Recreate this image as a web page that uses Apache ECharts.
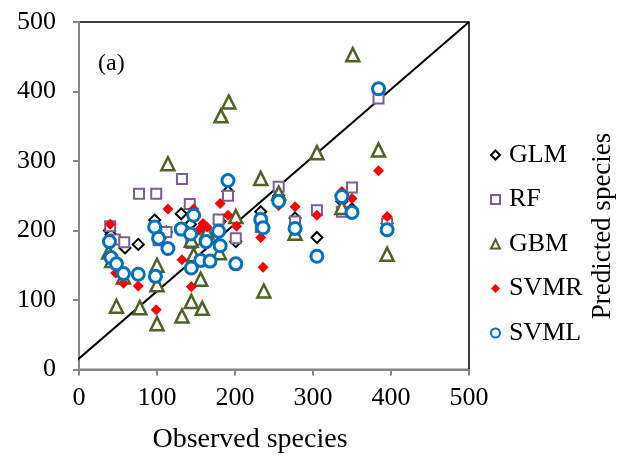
<!DOCTYPE html>
<html>
<head>
<meta charset="utf-8">
<script src="https://cdn.jsdelivr.net/npm/echarts@6/dist/echarts.min.js"></script>
<style>
html,body{margin:0;padding:0;background:#fff;}
#c{width:619px;height:457px;}
</style>
</head>
<body>
<div id="c"></div>
<script>
// ---- data (observed, predicted) ----
var seriesNames = ['GLM', 'RF', 'GBM', 'SVMR', 'SVML'];
var xTicks = [0, 100, 200, 300, 400, 500];
var yTicks = [0, 100, 200, 300, 400, 500];

var glm = [[39,200],[41,194],[59,175],[76,180],[97,215],[112,198],[131,224],[143,209],[147,190],[159,195],[163,188],[181,213],[191,256],[201,184],[233,227],[256,250],[277,218],[305,190],[337,242],[350,231],[384,400],[395,210]];
var rf = [[40,206],[46,187],[58,183],[77,253],[99,253],[102,186],[112,198],[132,274],[142,238],[144,182],[153,187],[165,195],[179,216],[191,250],[201,189],[233,205],[256,263],[277,213],[305,229],[337,227],[350,262],[384,390],[395,210]];
var gbm = [[38,169],[42,157],[48,91],[57,133],[78,89],[100,66],[100,122],[100,150],[114,296],[132,77],[144,186],[144,98],[147,165],[156,130],[158,88],[164,198],[180,168],[182,365],[192,385],[201,220],[233,275],[237,113],[256,254],[277,196],[305,312],[337,233],[351,453],[384,316],[395,166]];
var svmr = [[40,209],[47,139],[57,124],[76,120],[99,86],[114,231],[132,158],[144,119],[147,231],[155,202],[159,210],[164,205],[181,239],[191,222],[202,206],[233,190],[236,147],[256,236],[277,234],[305,222],[337,256],[350,246],[384,286],[395,220]];
var svml = [[39,184],[41,161],[48,152],[57,138],[76,137],[97,205],[98,134],[102,189],[114,174],[131,202],[143,195],[144,146],[147,222],[156,157],[163,184],[168,156],[179,199],[181,178],[191,272],[201,152],[233,216],[236,204],[256,242],[277,203],[305,163],[337,249],[350,226],[384,404],[395,201]];

// reference line endpoints (data units)
var refLine = [[-5,11],[500,500]];

var serif = '"Liberation Serif","Times New Roman",serif';
var chart = echarts.init(document.getElementById('c'), null, {renderer:'canvas'});

function sc(name, data, symbol, size, color, fill, bw){
  return {
    name: name, type: 'scatter', data: data, symbol: symbol, symbolSize: size,
    itemStyle: {color: fill, borderColor: color, borderWidth: bw, opacity: 1},
    emphasis: {disabled: true}, z: 3
  };
}

var option = {
  animation: false,
  backgroundColor: '#fff',
  grid: {left: 79, top: 22, width: 390, height: 347.5, show: true, borderColor: '#000', borderWidth: 1.5, backgroundColor: 'transparent'},
  xAxis: {
    type: 'value', min: xTicks[0], max: xTicks[xTicks.length-1], interval: 100,
    axisLine: {show: true, onZero: false, lineStyle: {color: '#868686', width: 2}},
    axisTick: {show: true, inside: false, length: 6, lineStyle: {color: '#868686', width: 2}},
    splitLine: {show: false},
    axisLabel: {fontFamily: serif, fontSize: 26, color: '#000', margin: 16}
  },
  yAxis: {
    type: 'value', min: yTicks[0], max: yTicks[yTicks.length-1], interval: 100,
    axisLine: {show: true, onZero: false, lineStyle: {color: '#868686', width: 2}},
    axisTick: {show: true, inside: false, length: 6, lineStyle: {color: '#868686', width: 2}},
    splitLine: {show: false},
    axisLabel: {fontFamily: serif, fontSize: 26, color: '#000', margin: 23}
  },
  legend: {
    orient: 'vertical', left: 485, top: 137, itemGap: 18.5, itemWidth: 9, itemHeight: 9,
    data: seriesNames,
    textStyle: {fontFamily: serif, fontSize: 26, color: '#000', lineHeight: 26, padding: [0,0,0,4]},
    selectedMode: false
  },
  graphic: [
    {type: 'text', left: 98, top: 52, style: {text: '(a)', font: '24px ' + serif, fill: '#000'}},
    {type: 'text', x: 250, y: 440, style: {text: 'Observed species', font: '28px ' + serif, fill: '#000', align: 'center', verticalAlign: 'middle'}},
    {type: 'text', x: 603, y: 226, rotation: Math.PI/2, style: {text: 'Predicted species', font: '27px ' + serif, fill: '#000', align: 'center', verticalAlign: 'middle'}}
  ],
  series: [
    {type: 'line', data: refLine, clip: false, symbol: 'none', silent: true, lineStyle: {color: '#000', width: 2}, z: 2, legendHoverLink: false},
    sc('GLM', glm, 'diamond', 11, '#000', '#fff', 2),
    sc('RF', rf, 'rect', 10, '#7B5E93', '#fff', 2),
    sc('GBM', gbm, 'triangle', 13, '#4F6228', '#fff', 2.5),
    sc('SVMR', svmr, 'diamond', 11, '#FF0000', '#FF0000', 0),
    sc('SVML', svml, 'circle', 12, '#0070C0', '#fff', 3)
  ]
};
chart.setOption(option);
</script>
</body>
</html>
